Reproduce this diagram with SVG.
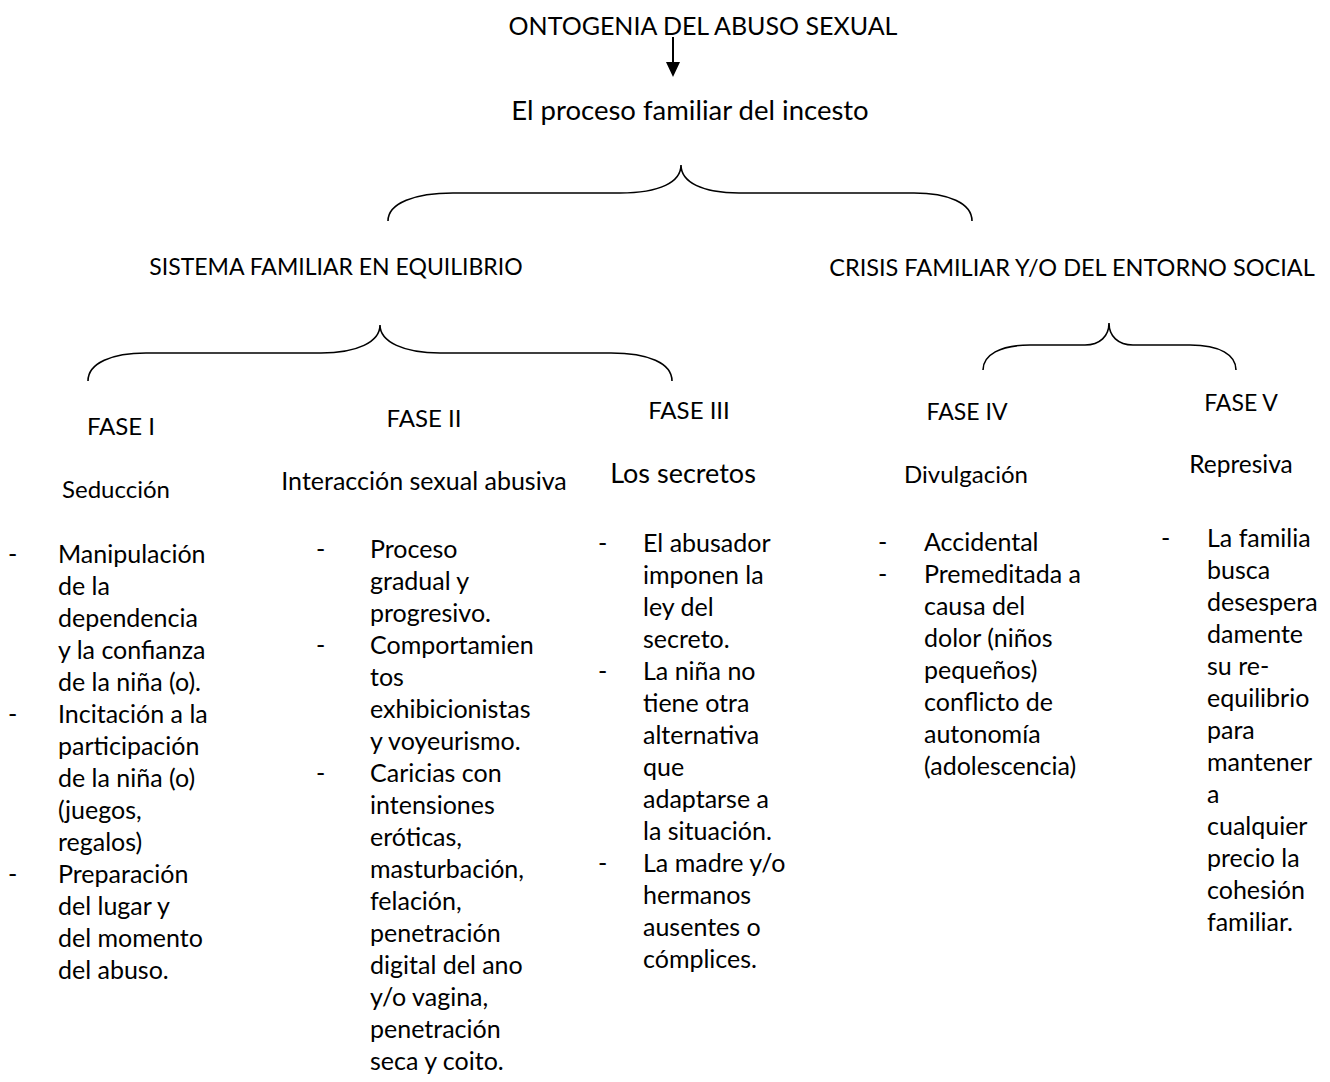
<svg xmlns="http://www.w3.org/2000/svg" width="1330" height="1082" viewBox="0 0 1330 1082">
<style>
text{font-family:Lato,"Open Sans","Liberation Sans",sans-serif;font-size:25px;fill:#000}
.c{text-anchor:middle}
.h{font-size:24px}
.brace{fill:none;stroke:#000;stroke-width:1.6}
</style>
<rect width="1330" height="1082" fill="#fff"/>
<g id="connectors">
<line x1="673" y1="37" x2="673" y2="62" stroke="#000" stroke-width="2"/>
<path d="M666,62 L680,62 L673,77 Z" fill="#000"/>
<path class="brace" d="M388,221 C388,203 415,193 453,193 L620,193 C660,193 681,182 681,165 C681,182 702,193 739,193 L914,193 C948,193 972,203 972,221"/>
<path class="brace" d="M88,381 C88,363 112,353 146,353 L321,353 C357,353 380,342 380,325 C380,342 404,353 440,353 L611,353 C648,353 672,363 672,381"/>
<path class="brace" d="M983,370 C983,355 1000,345 1030,345 L1085,345 C1100,345 1109,336 1109,323 C1109,336 1118,345 1133,345 L1190,345 C1220,345 1236,355 1236,370"/>
</g>
<g id="title"><text class="c" x="703" y="35" style="font-size:25px">ONTOGENIA DEL ABUSO SEXUAL</text></g>
<g id="proceso"><text class="c" x="690" y="120" style="font-size:27.5px">El proceso familiar del incesto</text></g>
<g id="sistema"><text class="c" x="336" y="275" style="font-size:23px">SISTEMA FAMILIAR EN EQUILIBRIO</text></g>
<g id="crisis"><text class="c" x="1072" y="276" style="font-size:23.5px">CRISIS FAMILIAR Y/O DEL ENTORNO SOCIAL</text></g>
<g id="fase1">
<text class="c h" x="121" y="435">FASE I</text>
<text class="c h" x="116" y="498">Seducción</text>
<text x="8" y="563">-</text><text x="8" y="723">-</text><text x="8" y="883">-</text>
<text y="563"><tspan x="58">Manipulación</tspan><tspan x="58" dy="32">de la</tspan><tspan x="58" dy="32">dependencia</tspan><tspan x="58" dy="32">y la confianza</tspan><tspan x="58" dy="32">de la niña (o).</tspan><tspan x="58" dy="32">Incitación a la</tspan><tspan x="58" dy="32">participación</tspan><tspan x="58" dy="32">de la niña (o)</tspan><tspan x="58" dy="32">(juegos,</tspan><tspan x="58" dy="32">regalos)</tspan><tspan x="58" dy="32">Preparación</tspan><tspan x="58" dy="32">del lugar y</tspan><tspan x="58" dy="32">del momento</tspan><tspan x="58" dy="32">del abuso.</tspan></text>
</g>
<g id="fase2">
<text class="c h" x="424" y="427">FASE II</text>
<text class="c" x="424" y="490">Interacción sexual abusiva</text>
<text x="316" y="558">-</text><text x="316" y="654">-</text><text x="316" y="782">-</text>
<text y="558"><tspan x="370">Proceso</tspan><tspan x="370" dy="32">gradual y</tspan><tspan x="370" dy="32">progresivo.</tspan><tspan x="370" dy="32">Comportamien</tspan><tspan x="370" dy="32">tos</tspan><tspan x="370" dy="32">exhibicionistas</tspan><tspan x="370" dy="32">y voyeurismo.</tspan><tspan x="370" dy="32">Caricias con</tspan><tspan x="370" dy="32">intensiones</tspan><tspan x="370" dy="32">eróticas,</tspan><tspan x="370" dy="32">masturbación,</tspan><tspan x="370" dy="32">felación,</tspan><tspan x="370" dy="32">penetración</tspan><tspan x="370" dy="32">digital del ano</tspan><tspan x="370" dy="32">y/o vagina,</tspan><tspan x="370" dy="32">penetración</tspan><tspan x="370" dy="32">seca y coito.</tspan></text>
</g>
<g id="fase3">
<text class="c h" x="689" y="419">FASE III</text>
<text class="c" x="683" y="483" style="font-size:27px">Los secretos</text>
<text x="598" y="552">-</text><text x="598" y="680">-</text><text x="598" y="872">-</text>
<text y="552"><tspan x="643">El abusador</tspan><tspan x="643" dy="32">imponen la</tspan><tspan x="643" dy="32">ley del</tspan><tspan x="643" dy="32">secreto.</tspan><tspan x="643" dy="32">La niña no</tspan><tspan x="643" dy="32">tiene otra</tspan><tspan x="643" dy="32">alternativa</tspan><tspan x="643" dy="32">que</tspan><tspan x="643" dy="32">adaptarse a</tspan><tspan x="643" dy="32">la situación.</tspan><tspan x="643" dy="32">La madre y/o</tspan><tspan x="643" dy="32">hermanos</tspan><tspan x="643" dy="32">ausentes o</tspan><tspan x="643" dy="32">cómplices.</tspan></text>
</g>
<g id="fase4">
<text class="c h" x="967" y="420" style="font-size:23px">FASE IV</text>
<text class="c h" x="966" y="483">Divulgación</text>
<text x="878" y="551">-</text><text x="878" y="583">-</text>
<text y="551"><tspan x="924">Accidental</tspan><tspan x="924" dy="32">Premeditada a</tspan><tspan x="924" dy="32">causa del</tspan><tspan x="924" dy="32">dolor (niños</tspan><tspan x="924" dy="32">pequeños)</tspan><tspan x="924" dy="32">conflicto de</tspan><tspan x="924" dy="32">autonomía</tspan><tspan x="924" dy="32">(adolescencia)</tspan></text>
</g>
<g id="fase5">
<text class="c h" x="1241" y="411" style="font-size:23px">FASE V</text>
<text class="c h" x="1241" y="473" style="font-size:24.5px">Represiva</text>
<text x="1161" y="547">-</text>
<text y="547"><tspan x="1207">La familia</tspan><tspan x="1207" dy="32">busca</tspan><tspan x="1207" dy="32">desespera</tspan><tspan x="1207" dy="32">damente</tspan><tspan x="1207" dy="32">su re-</tspan><tspan x="1207" dy="32">equilibrio</tspan><tspan x="1207" dy="32">para</tspan><tspan x="1207" dy="32">mantener</tspan><tspan x="1207" dy="32">a</tspan><tspan x="1207" dy="32">cualquier</tspan><tspan x="1207" dy="32">precio la</tspan><tspan x="1207" dy="32">cohesión</tspan><tspan x="1207" dy="32">familiar.</tspan></text>
</g>
</svg>
